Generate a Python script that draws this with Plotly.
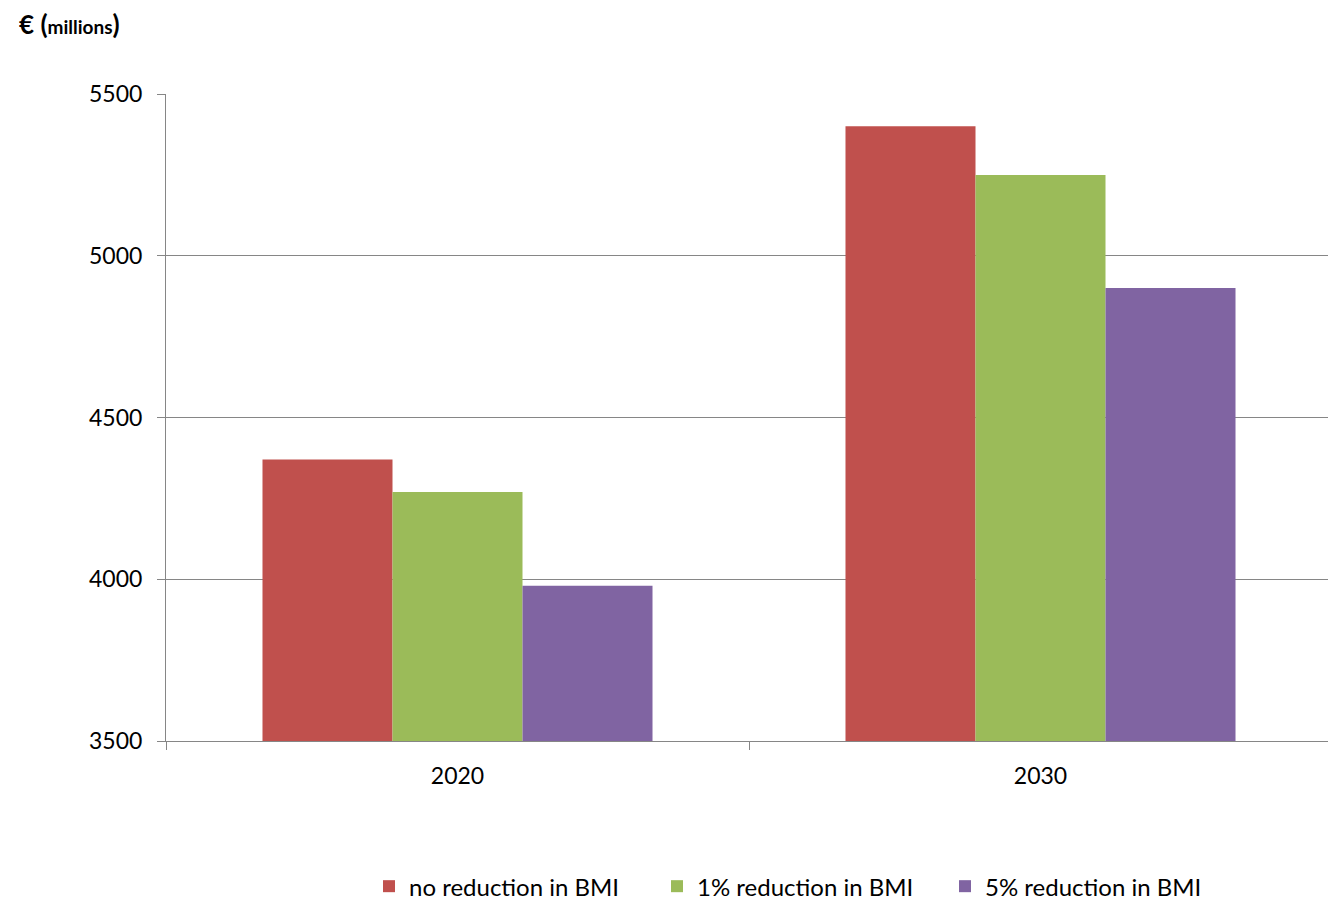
import plotly.graph_objects as go

categories = ["2020", "2030"]
series_names = ["no reduction in BMI", "1% reduction in BMI", "5% reduction in BMI"]
no_reduction = [4370, 5400]
one_pct = [4270, 5250]
five_pct = [3980, 4900]
colors = ["#C0504D", "#9BBB59", "#8064A2"]

fig = go.Figure()
for name, vals, c in zip(series_names, [no_reduction, one_pct, five_pct], colors):
    fig.add_trace(go.Bar(x=categories, y=vals, name=name, marker_color=c,
                         marker_line_width=0))

fig.update_layout(
    width=1328, height=899,
    paper_bgcolor="white", plot_bgcolor="white",
    margin=dict(l=158, r=4, t=86, b=166, autoexpand=False),
    barmode="group", bargap=0.331, bargroupgap=0,
    font=dict(family="Lato, Open Sans, sans-serif", size=20, color="black"),
    legend=dict(orientation="h", x=(369 - 166) / 1166, xanchor="left", y=-0.225, yanchor="middle",
                font=dict(size=24), itemwidth=30, traceorder="normal",
                entrywidth=243, entrywidthmode="pixels"),
    xaxis=dict(type="category", tickson="boundaries", ticks="outside", ticklen=8,
               tickcolor="#868686", showline=True, linecolor="#868686", linewidth=1,
               showgrid=False, tickfont=dict(size=23), ticklabelstandoff=14),
    yaxis=dict(range=[3500, 5500], tickvals=[3500, 4000, 4500, 5000, 5500],
               ticks="outside", ticklen=8, tickcolor="#868686", showline=True,
               linecolor="#868686", linewidth=1, showgrid=True, gridcolor="#868686",
               gridwidth=1, zeroline=False, tickfont=dict(size=23), ticklabelstandoff=10),
    annotations=[dict(text="<b>€ (<span style='font-size:19px'>millions</span>)</b>",
                      xref="paper", yref="paper", x=(17 - 166) / 1166, y=1.108, xanchor="left",
                      yanchor="middle", showarrow=False, font=dict(size=26))],
)
fig.write_html("out.html")
